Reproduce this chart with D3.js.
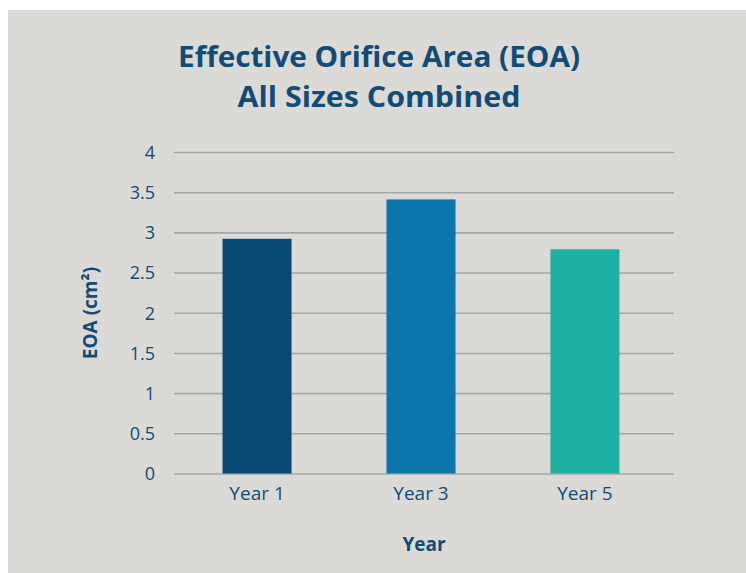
<!DOCTYPE html>
<html>
<head>
<meta charset="utf-8">
<script src="https://cdn.jsdelivr.net/npm/d3@7"></script>
<style>
  html, body { margin: 0; padding: 0; background: #ffffff; }
  svg { display: block; }
</style>
</head>
<body>
<div id="chart"></div>
<script>
// chart values
var years = ["Year 1", "Year 3", "Year 5"]
var eoa = [2.92, 3.41, 2.79]
var barColors = ["#064872", "#0b76ab", "#1fb0a4"]
var yTicks = [0, 0.5, 1, 1.5, 2, 2.5, 3, 3.5, 4]
var titleLines = ["Effective Orifice Area (EOA)", "All Sizes Combined"]

var width = 746, height = 573
var plotLeft = 174, plotRight = 674, plotTop = 152, plotBottom = 473.5
var textColor = "#114b78"
var font = "'Open Sans', 'DejaVu Sans', sans-serif"

var svg = d3.select("#chart").append("svg")
  .attr("width", width).attr("height", height)

// grey panel
svg.append("rect")
  .attr("x", 8).attr("y", 10)
  .attr("width", width - 8).attr("height", height - 10)
  .attr("fill", "#dbdad6")

// title, stretched to the width of the original lettering
var titleWidths = [402, 283]
svg.selectAll("text.title")
  .data(titleLines)
  .enter().append("text")
  .attr("class", "title")
  .attr("x", 379)
  .attr("y", function(d, i) { return 67 + i * 40 })
  .attr("text-anchor", "middle")
  .attr("font-family", font)
  .attr("font-weight", 700)
  .attr("font-size", 28)
  .attr("textLength", function(d, i) { return titleWidths[i] })
  .attr("lengthAdjust", "spacingAndGlyphs")
  .attr("fill", textColor)
  .text(function(d) { return d })

// bands sit a little left of the gridline span, as in the original
var x = d3.scaleBand()
  .domain(years)
  .range([plotLeft + 1, plotRight - 7])
  .paddingInner(0.579)
  .paddingOuter(0.29)

var y = d3.scaleLinear()
  .domain([0, 4])
  .range([plotBottom, plotTop])

// gridlines + y labels via axis
var yAxis = svg.append("g")
  .attr("transform", "translate(" + plotLeft + ",0)")
  .call(d3.axisLeft(y).tickValues(yTicks).tickSize(-(plotRight - plotLeft)).tickPadding(19)
    .tickFormat(function(d) { return d3.format("")(d) }))
yAxis.select(".domain").remove()
yAxis.selectAll(".tick line")
  .attr("stroke", "#a6a6a6").attr("stroke-width", 1.6)
yAxis.selectAll(".tick text")
  .attr("font-family", font).attr("font-size", 18)
  .attr("fill", textColor)
  .attr("dy", "0.35em")

// bars
var data = years.map(function(d, i) { return { year: d, value: eoa[i], color: barColors[i] } })
svg.selectAll("rect.bar")
  .data(data)
  .enter().append("rect")
  .attr("class", "bar")
  .attr("x", function(d) { return x(d.year) })
  .attr("y", function(d) { return y(d.value) })
  .attr("width", x.bandwidth())
  .attr("height", function(d) { return y(0) - y(d.value) })
  .attr("fill", function(d) { return d.color })

// x axis labels
var xAxis = svg.append("g")
  .attr("transform", "translate(0," + plotBottom + ")")
  .call(d3.axisBottom(x).tickSize(0).tickPadding(13))
xAxis.select(".domain").remove()
xAxis.selectAll(".tick text")
  .attr("font-family", font).attr("font-size", 19)
  .attr("fill", textColor)

// axis titles
svg.append("text")
  .attr("x", 424).attr("y", 551)
  .attr("text-anchor", "middle")
  .attr("font-family", font).attr("font-weight", 700).attr("font-size", 19)
  .attr("fill", textColor)
  .text("Year")

svg.append("text")
  .attr("transform", "translate(97,313) rotate(-90)")
  .attr("text-anchor", "middle")
  .attr("font-family", font).attr("font-weight", 700).attr("font-size", 19)
  .attr("fill", textColor)
  .text("EOA (cm²)")
</script>
</body>
</html>
